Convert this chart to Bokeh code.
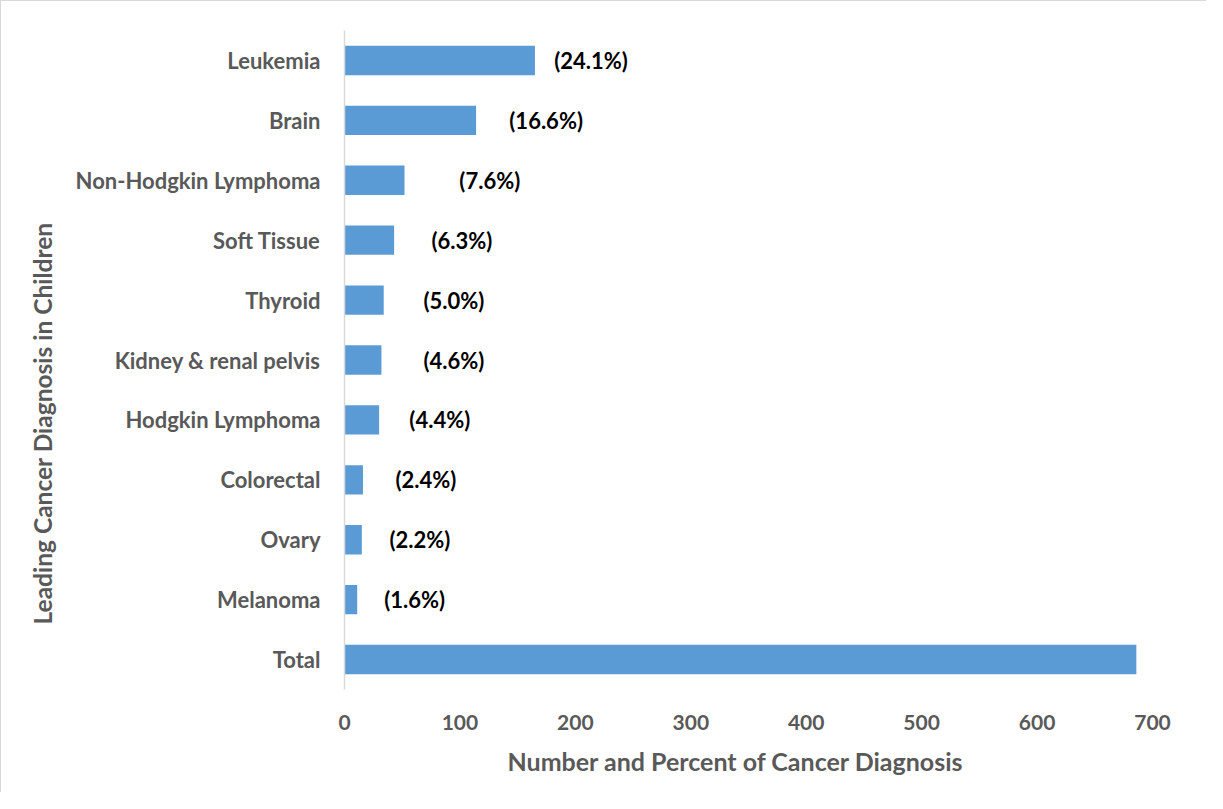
from bokeh.plotting import figure
from bokeh.models import FactorRange, Range1d, ColumnDataSource, FixedTicker, Title
from bokeh.core.properties import value
from bokeh.embed import file_html
from bokeh.resources import INLINE

categories = ["Leukemia", "Brain", "Non-Hodgkin Lymphoma", "Soft Tissue", "Thyroid",
              "Kidney & renal pelvis", "Hodgkin Lymphoma", "Colorectal", "Ovary",
              "Melanoma", "Total"]
counts = [165, 114, 52, 43, 34, 32, 30, 16, 15, 11, 686]
percent_labels = ["(24.1%)", "(16.6%)", "(7.6%)", "(6.3%)", "(5.0%)", "(4.6%)",
                  "(4.4%)", "(2.4%)", "(2.2%)", "(1.6%)"]
label_x = [181.7, 142.8, 99.5, 75.3, 68.4, 68.4, 56.2, 44.1, 38.9, 34.4]
x_ticks = [0, 100, 200, 300, 400, 500, 600, 700]
x_title = "Number and Percent of Cancer Diagnosis"
y_title = "Leading Cancer Diagnosis in Children"

FONT = "Lato"
GREY = "#595959"

p = figure(width=1206, height=792, output_backend="svg", toolbar_location=None,
           y_range=FactorRange(factors=list(reversed(categories))),
           x_range=Range1d(0, 700),
           min_border_left=343, min_border_right=55, min_border_top=29, min_border_bottom=104)
p.styles = {"border-left": "1px solid #d9d9d9", "border-top": "1px solid #d9d9d9"}
p.outline_line_color = None
p.grid.grid_line_color = None

src = ColumnDataSource(dict(cat=categories, val=counts))
p.hbar(y="cat", right="val", left=0, height=0.49, source=src,
       fill_color="#5B9BD5", line_color=None)

lsrc = ColumnDataSource(dict(x=label_x, y=categories[:len(percent_labels)], t=percent_labels))
p.text(x="x", y="y", text="t", source=lsrc, text_align="left", text_baseline="middle",
       text_font=value(FONT), text_font_style="bold", text_font_size="22px",
       text_color="black")

xa = p.xaxis[0]
xa.ticker = FixedTicker(ticks=x_ticks)
xa.axis_line_color = None
xa.major_tick_line_color = None
xa.minor_tick_line_color = None
xa.major_label_text_font = FONT
xa.major_label_text_font_style = "bold"
xa.major_label_text_font_size = "21px"
xa.major_label_text_color = GREY
xa.major_label_standoff = 19

ya = p.yaxis[0]
ya.axis_line_color = "#d9d9d9"
ya.axis_line_width = 1.5
ya.major_tick_line_color = None
ya.minor_tick_line_color = None
ya.major_label_text_font = FONT
ya.major_label_text_font_style = "bold"
ya.major_label_text_font_size = "22px"
ya.major_label_text_color = GREY
ya.major_label_standoff = 18

p.add_layout(Title(text=x_title, align="left", offset=163, standoff=23,
                   text_font=FONT, text_font_style="bold", text_font_size="25px",
                   text_color=GREY), "below")
p.add_layout(Title(text=y_title, align="left", offset=65, standoff=32,
                   text_font=FONT, text_font_style="bold", text_font_size="24.5px",
                   text_color=GREY), "left")

open("out.html", "w").write(file_html(p, INLINE))
